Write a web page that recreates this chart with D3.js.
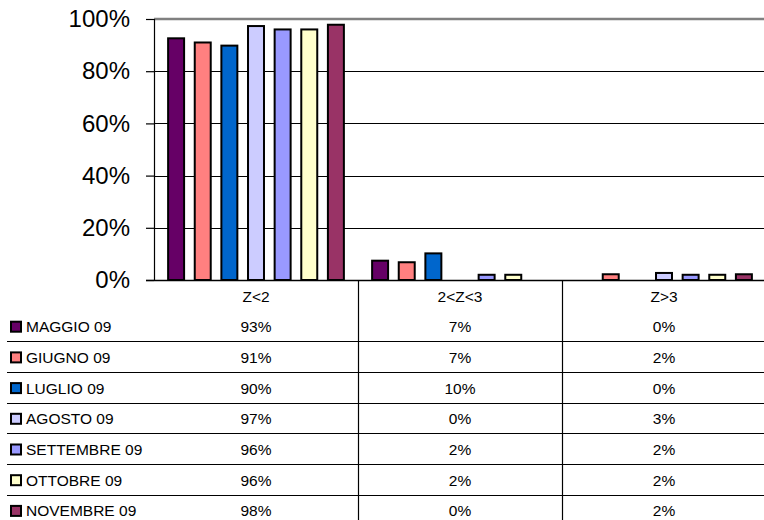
<!DOCTYPE html>
<html>
<head>
<meta charset="utf-8">
<script src="https://cdn.jsdelivr.net/npm/d3@7"></script>
<style>
  html, body { margin: 0; padding: 0; background: #fff; }
  svg { display: block; font-family: "Liberation Sans", Arial, sans-serif; }
</style>
</head>
<body>
<svg id="chart" width="764" height="520"></svg>
<script>
// ---- data ----
const categories = ["Z<2", "2<Z<3", "Z>3"];
const seriesNames = ["MAGGIO 09", "GIUGNO 09", "LUGLIO 09", "AGOSTO 09", "SETTEMBRE 09", "OTTOBRE 09", "NOVEMBRE 09"];
const seriesColors = ["#660066", "#FF8080", "#0066CC", "#CCCCFF", "#9999FF", "#FFFFCC", "#993366"];
const maggio    = [0.926, 0.074, 0.000];
const giugno    = [0.910, 0.068, 0.022];
const luglio    = [0.898, 0.102, 0.000];
const agosto    = [0.973, 0.000, 0.027];
const settembre = [0.960, 0.020, 0.020];
const ottobre   = [0.960, 0.020, 0.020];
const novembre  = [0.978, 0.000, 0.022];
const yTicks = [0, 0.2, 0.4, 0.6, 0.8, 1.0];

const seriesValues = [maggio, giugno, luglio, agosto, settembre, ottobre, novembre];
const series = seriesNames.map((name, i) => ({ name, color: seriesColors[i], values: seriesValues[i] }));

// ---- layout ----
const svg = d3.select("#chart");
const plotLeft = 154, plotRight = 766, plotTop = 19, plotBottom = 280;
const fmt = d3.format(".0%");

const x0 = d3.scaleBand().domain(categories).range([plotLeft, plotRight]).paddingInner(0).paddingOuter(0);
const x1 = d3.scaleBand().domain(seriesNames).range([0, x0.bandwidth()]).paddingInner(0.4).paddingOuter(0.53);
const y = d3.scaleLinear().domain([0, 1]).range([plotBottom, plotTop]);

// gridlines
svg.append("g").selectAll("line")
  .data(yTicks.filter(t => t > 0 && t < 1))
  .join("line")
  .attr("x1", plotLeft).attr("x2", plotRight)
  .attr("y1", d => Math.round(y(d)) + 0.5).attr("y2", d => Math.round(y(d)) + 0.5)
  .attr("stroke", "#000").attr("stroke-width", 1);

// top border (100%)
svg.append("line")
  .attr("x1", plotLeft).attr("x2", plotRight)
  .attr("y1", y(1)).attr("y2", y(1))
  .attr("stroke", "#808080").attr("stroke-width", 2.5);

// bars
const groups = svg.append("g").selectAll("g")
  .data(categories)
  .join("g")
  .attr("transform", d => `translate(${x0(d)},0)`);

groups.selectAll("rect")
  .data((c, ci) => series.map(s => ({ name: s.name, color: s.color, v: s.values[ci] })).filter(d => d.v > 0))
  .join("rect")
  .attr("x", d => x1(d.name))
  .attr("width", x1.bandwidth())
  .attr("y", d => y(d.v))
  .attr("height", d => y(0) - y(d.v))
  .attr("fill", d => d.color)
  .attr("stroke", "#000")
  .attr("stroke-width", 2);

// y axis
const yAxis = d3.axisLeft(y).tickValues(yTicks).tickFormat(fmt).tickSize(8).tickPadding(16);
const ga = svg.append("g").attr("transform", `translate(${plotLeft},0)`).call(yAxis);
ga.select(".domain").attr("stroke", "#000").attr("stroke-width", 1.2);
ga.selectAll(".tick line").attr("stroke", "#000").attr("stroke-width", 1.2);
ga.selectAll(".tick text")
  .attr("font-size", 24)
  .attr("font-family", "'Liberation Sans', Arial, sans-serif")
  .attr("fill", "#000");

// x axis line
svg.append("line")
  .attr("x1", plotLeft - 8).attr("x2", plotRight)
  .attr("y1", plotBottom + 0.5).attr("y2", plotBottom + 0.5)
  .attr("stroke", "#000").attr("stroke-width", 1.5);

// ---- data table ----
const rowPitch = 30.7;
const headerCenter = 296;
const rowCenter = i => headerCenter + rowPitch * (i + 1);
const fs = 15.5;
const baseOff = fs * 0.355;

// vertical dividers
svg.append("g").selectAll("line")
  .data(categories.slice(1))
  .join("line")
  .attr("x1", d => x0(d) + 0.5).attr("x2", d => x0(d) + 0.5)
  .attr("y1", plotBottom).attr("y2", 520)
  .attr("stroke", "#000").attr("stroke-width", 1.2);

// horizontal row lines
svg.append("g").selectAll("line")
  .data(d3.range(series.length))
  .join("line")
  .attr("x1", 7).attr("x2", plotRight)
  .attr("y1", i => Math.round(rowCenter(i) + 14.5) + 0.5)
  .attr("y2", i => Math.round(rowCenter(i) + 14.5) + 0.5)
  .attr("stroke", "#000").attr("stroke-width", 1.2);

// header labels
svg.append("g").selectAll("text")
  .data(categories)
  .join("text")
  .attr("x", d => x0(d) + x0.bandwidth() / 2)
  .attr("y", headerCenter + baseOff)
  .attr("text-anchor", "middle")
  .attr("font-size", fs)
  .attr("fill", "#000")
  .text(d => d);

// rows
const rows = svg.append("g").selectAll("g")
  .data(series)
  .join("g");

rows.append("rect")
  .attr("x", 11).attr("width", 10).attr("height", 10)
  .attr("y", (d, i) => rowCenter(i) - 5)
  .attr("fill", d => d.color)
  .attr("stroke", "#000").attr("stroke-width", 2);

rows.append("text")
  .attr("x", 26)
  .attr("y", (d, i) => rowCenter(i) + baseOff)
  .attr("font-size", fs)
  .attr("fill", "#000")
  .text(d => d.name);

rows.each(function(s, i) {
  d3.select(this).selectAll("text.val")
    .data(s.values)
    .join("text")
    .attr("class", "val")
    .attr("x", (v, ci) => x0(categories[ci]) + x0.bandwidth() / 2)
    .attr("y", rowCenter(i) + baseOff)
    .attr("text-anchor", "middle")
    .attr("font-size", fs)
    .attr("fill", "#000")
    .text(v => fmt(v));
});
</script>
</body>
</html>
